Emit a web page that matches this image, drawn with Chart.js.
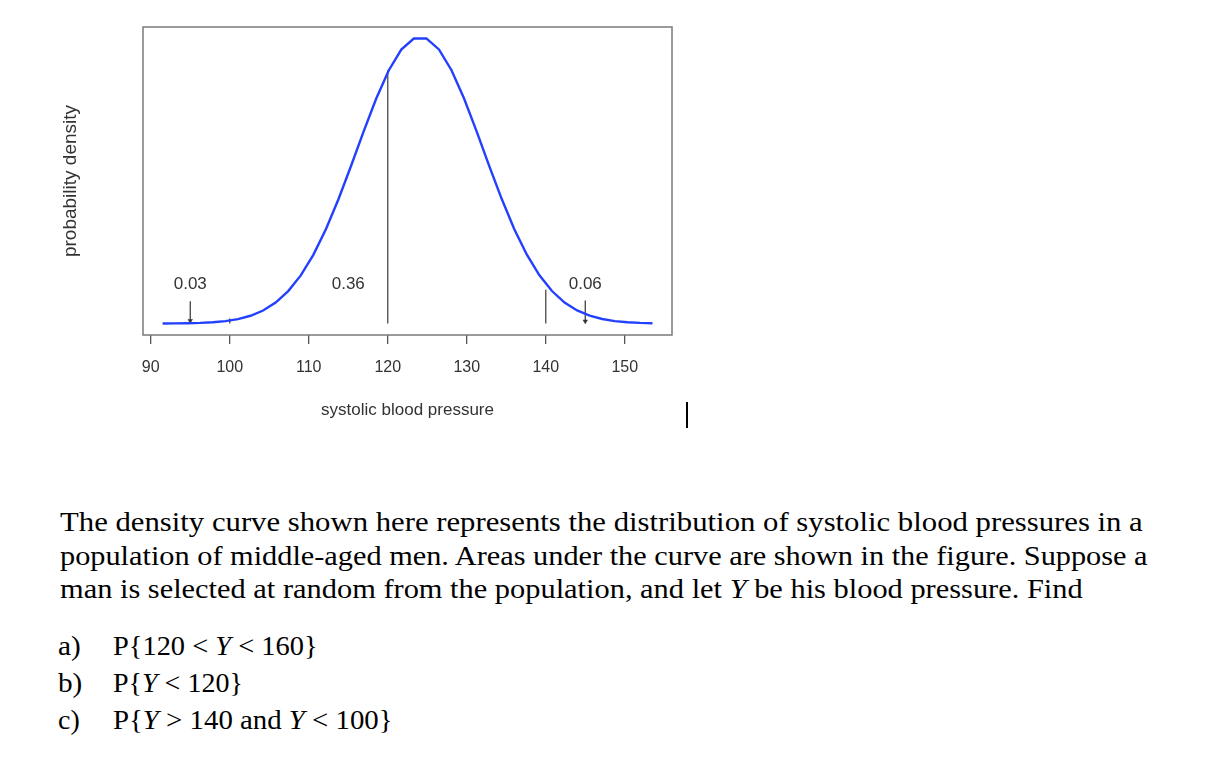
<!DOCTYPE html>
<html>
<head>
<meta charset="utf-8">
<script src="https://cdn.jsdelivr.net/npm/chart.js@4.4.1/dist/chart.umd.min.js"></script>
<style>
  body { margin: 0; background: #fff; width: 1218px; height: 766px; position: relative; overflow: hidden; }
  #wrap { position: absolute; left: 0; top: 0; width: 720px; height: 440px; }
  .q { position: absolute; font-family: "Liberation Serif", serif; font-size: 28px; line-height: 30px;
       color: #000; white-space: nowrap; transform-origin: 0 50%; }
  #cursor { position: absolute; left: 686px; top: 402px; width: 2px; height: 26px; background: #000; }
</style>
</head>
<body>
<div id="wrap"><canvas id="chart" width="720" height="440"></canvas></div>
<div id="cursor"></div>

<div class="q" id="l1" style="left:60px;top:507px">The density curve shown here represents the distribution of systolic blood pressures in a</div>
<div class="q" id="l2" style="left:60px;top:541px">population of middle-aged men. Areas under the curve are shown in the figure. Suppose a</div>
<div class="q" id="l3" style="left:60px;top:574px">man is selected at random from the population, and let <i>Y</i> be his blood pressure. Find</div>
<div class="q" id="la" style="left:58px;top:631px">a)</div>
<div class="q" id="lb" style="left:58px;top:668px">b)</div>
<div class="q" id="lc" style="left:58px;top:705px">c)</div>
<div class="q" id="pa" style="left:113px;top:631px">P{120 &lt; <i>Y</i> &lt; 160}</div>
<div class="q" id="pb" style="left:113px;top:668px">P{<i>Y</i> &lt; 120}</div>
<div class="q" id="pc" style="left:113px;top:705px">P{<i>Y</i> &gt; 140 and <i>Y</i> &lt; 100}</div>

<script>
// density curve
const curveX = [91.5, 93.09, 94.68, 96.27, 97.86, 99.45, 101.04, 102.63, 104.22, 105.81,
  107.4, 108.99, 110.58, 112.17, 113.76, 115.35, 116.94, 118.53, 120.12, 121.71,
  123.3, 124.89, 126.48, 128.07, 129.66, 131.25, 132.84, 134.43, 136.02, 137.61,
  139.2, 140.79, 142.38, 143.97, 145.56, 147.15, 148.74, 150.33, 151.92, 153.51];
const curveY = [0.00001, 0.00003, 0.00006, 0.00012, 0.00023, 0.00043, 0.00078, 0.00136, 0.00227, 0.00366,
  0.00565, 0.00838, 0.01196, 0.01641, 0.02163, 0.02742, 0.03341, 0.03914, 0.04406, 0.0477,
  0.04962, 0.04963, 0.04771, 0.0441, 0.03917, 0.03345, 0.02746, 0.02167, 0.01643, 0.01198,
  0.0084, 0.00566, 0.00366, 0.00228, 0.00137, 0.00079, 0.00043, 0.00023, 0.00012, 0.00006];

// vertical cut lines (x, top)
const cutX = [100, 120, 140];
const cutTop = [0.0009, 0.0441, 0.0059];

// arrows (x, top, head)
const arrowX = [95, 145];
const arrowTop = [0.0039, 0.004];
const arrowHead = [0.0005, 0.0004];

// area labels
const areaText = ["0.03", "0.36", "0.06"];
const areaX = [95, 115, 145];
const areaY = [0.0069, 0.0069, 0.0069];

const xTicks = [90, 100, 110, 120, 130, 140, 150];

const gray = "#555";
const textColor = "#333";
const font = "Liberation Sans, Arial, sans-serif";

const datasets = [{
  data: curveX.map((x, i) => ({ x, y: curveY[i] })),
  borderColor: "#2340ff",
  borderWidth: 2.4,
  pointRadius: 0,
}];
cutX.forEach((x, i) => datasets.push({
  data: [{ x, y: 0 }, { x, y: cutTop[i] }],
  borderColor: gray, borderWidth: 1.4, pointRadius: 0,
}));
arrowX.forEach((x, i) => datasets.push({
  data: [{ x, y: arrowTop[i] }, { x, y: arrowHead[i] }],
  borderColor: "#333", borderWidth: 1.2,
  pointRadius: [0, 2.6], pointStyle: "triangle", rotation: 180,
  pointBackgroundColor: "#333", pointBorderColor: "#333", pointBorderWidth: 0.5,
}));

const frame = {
  id: "frame",
  afterDraw(chart) {
    const { ctx, chartArea: a, scales: { x, y } } = chart;
    ctx.save();
    ctx.strokeStyle = "#7a7a7a";
    ctx.lineWidth = 1.5;
    ctx.strokeRect(a.left, a.top, a.right - a.left, a.bottom - a.top);

    ctx.fillStyle = textColor;
    ctx.font = "17px " + font;
    ctx.textAlign = "center";
    ctx.textBaseline = "middle";
    areaText.forEach((t, i) => {
      ctx.fillText(t, x.getPixelForValue(areaX[i]), y.getPixelForValue(areaY[i]));
    });

    ctx.font = "19px " + font;
    ctx.translate(71, (a.top + a.bottom) / 2);
    ctx.rotate(-Math.PI / 2);
    ctx.fillText("probability density", 0, 0);
    ctx.restore();
  }
};

new Chart(document.getElementById("chart"), {
  type: "line",
  data: { datasets },
  plugins: [frame],
  options: {
    responsive: false,
    animation: false,
    layout: { padding: { left: 143, right: 48, top: 27, bottom: 0 } },
    plugins: { legend: { display: false }, tooltip: { enabled: false } },
    scales: {
      x: {
        type: "linear",
        min: 89.02,
        max: 155.98,
        afterBuildTicks: (s) => { s.ticks = xTicks.map((v) => ({ value: v })); },
        afterFit: (s) => { s.height = 105; },
        border: { display: false },
        grid: { drawOnChartArea: false, drawTicks: true, tickLength: 9, color: gray, lineWidth: 1.3 },
        ticks: { padding: 14, color: textColor, font: { family: font, size: 16 }, maxRotation: 0 },
        title: {
          display: true, text: "systolic blood pressure", color: textColor,
          font: { family: font, size: 17 }, padding: { top: 0, bottom: 19 }
        }
      },
      y: { display: false, min: -0.00199, max: 0.05162 }
    }
  }
});

// fit the text lines to the widths in the figure
const widths = { l1: 1083, l2: 1088, l3: 1023, pa: 205, pb: 130, pc: 280, la: 23, lb: 24, lc: 22 };
Object.keys(widths).forEach((id) => {
  const el = document.getElementById(id);
  el.style.transform = "scaleX(" + (widths[id] / el.offsetWidth) + ")";
});
</script>
</body>
</html>
